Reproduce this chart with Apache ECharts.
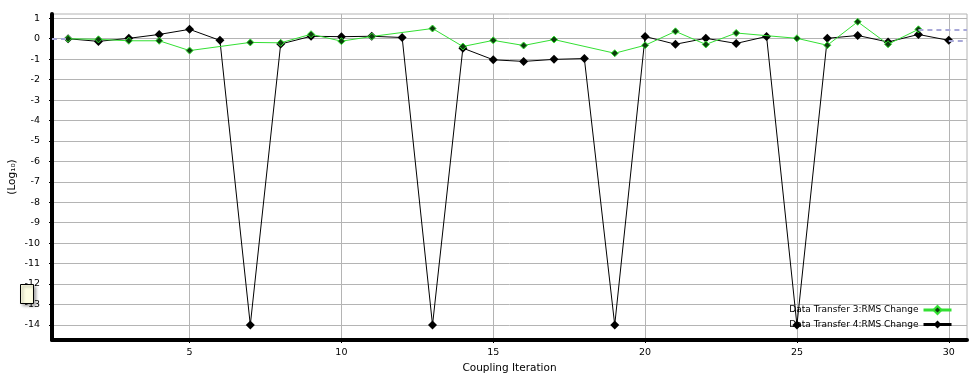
<!DOCTYPE html>
<html>
<head>
<meta charset="utf-8">
<script src="https://cdn.jsdelivr.net/npm/echarts@6/dist/echarts.min.js"></script>
<style>
html,body{margin:0;padding:0;background:#fff;}
#chart{width:978px;height:386px;}
</style>
</head>
<body>
<div id="chart"></div>
<script>
// Data Transfer 3 (green) — iteration, value
var dt3Iter = [1, 2, 3, 4, 5, 7, 8, 9, 10, 11, 13, 14, 15, 16, 17, 19, 20, 21, 22, 23, 25, 26, 27, 28, 29];
var dt3Vals = [0.0, -0.03, -0.1, -0.1, -0.58, -0.18, -0.2, 0.22, -0.12, 0.11, 0.5, -0.38, -0.08, -0.33, -0.04, -0.71, -0.32, 0.36, -0.28, 0.28, 0.02, -0.32, 0.83, -0.27, 0.46];
// Data Transfer 4 (black)
var dt4Iter = [1, 2, 3, 4, 5, 6, 7, 8, 9, 10, 11, 12, 13, 14, 15, 16, 17, 18, 19, 20, 21, 22, 23, 24, 25, 26, 27, 28, 29, 30];
var dt4Vals = [0.0, -0.13, 0.02, 0.21, 0.46, -0.08, -14, -0.26, 0.12, 0.1, 0.12, 0.06, -14, -0.46, -1.03, -1.11, -1.01, -0.97, -14, 0.11, -0.27, 0.02, -0.23, 0.11, -14, 0.02, 0.16, -0.16, 0.21, -0.08];
var xTicks = [5, 10, 15, 20, 25, 30];
var yTicks = [1, 0, -1, -2, -3, -4, -5, -6, -7, -8, -9, -10, -11, -12, -13, -14];
var names = ['Data Transfer 3:RMS Change', 'Data Transfer 4:RMS Change'];

var X_MIN = 0.47, X_MAX = 30.6, Y_MIN = -14.74, Y_MAX = 1.21;

function pairs(a, b) { return a.map(function (v, i) { return [v, b[i]]; }); }
function tailLine(iters, vals) {
  var n = iters.length - 1;
  return [[{coord: [iters[n], vals[n]]}, {coord: [X_MAX, vals[n]]}]];
}

var chart = echarts.init(document.getElementById('chart'), null, {renderer: 'canvas'});
var font = 'DejaVu Sans';
chart.setOption({
  animation: false,
  backgroundColor: '#fff',
  textStyle: {fontFamily: font},
  grid: {left: 52, right: 11, top: 14, bottom: 46, show: true, borderColor: '#b4b4b4', borderWidth: 1, containLabel: false, outerBoundsMode: 'none'},
  legend: {
    data: names,
    orient: 'vertical',
    right: 20,
    top: 300,
    align: 'right',
    itemWidth: 28,
    itemHeight: 10,
    itemGap: 5,
    textStyle: {fontFamily: font, fontSize: 9, color: '#000'},
    lineStyle: {width: 3}
  },
  xAxis: {
    type: 'value',
    min: X_MIN,
    max: X_MAX,
    name: 'Coupling Iteration',
    nameLocation: 'middle',
    nameGap: 23,
    nameMoveOverlap: false,
    nameTextStyle: {fontFamily: font, fontSize: 10.5, color: '#000'},
    axisLine: {show: true, lineStyle: {color: '#000', width: 4}, onZero: false},
    axisTick: {show: true, customValues: xTicks, length: 3, lineStyle: {color: '#000'}},
    axisLabel: {customValues: xTicks, color: '#000', fontSize: 9.5, margin: 8, fontFamily: font},
    splitLine: {show: true, lineStyle: {color: '#b4b4b4', width: 1}}
  },
  yAxis: {
    type: 'value',
    min: Y_MIN,
    max: Y_MAX,
    name: '(Log\u2081\u2080)',
    nameLocation: 'middle',
    nameGap: 34,
    nameMoveOverlap: false,
    nameRotate: 90,
    nameTextStyle: {fontFamily: font, fontSize: 10.5, color: '#000'},
    axisLine: {show: true, lineStyle: {color: '#000', width: 4}, onZero: false},
    axisTick: {show: true, customValues: yTicks, length: 3, lineStyle: {color: '#000'}},
    axisLabel: {customValues: yTicks, color: '#000', fontSize: 9.5, margin: 12, fontFamily: font},
    splitLine: {show: true, lineStyle: {color: '#b4b4b4', width: 1}}
  },
  series: [
    {
      name: names[0],
      type: 'line',
      data: pairs(dt3Iter, dt3Vals),
      symbol: 'diamond',
      symbolSize: 7,
      lineStyle: {color: '#33e033', width: 1},
      itemStyle: {color: '#0d3d0d', borderColor: '#33e033', borderWidth: 1},
      emphasis: {disabled: true},
      z: 3,
      markLine: {
        silent: true, symbol: 'none', label: {show: false},
        lineStyle: {color: '#a8a8d8', type: [5, 4], width: 2},
        data: tailLine(dt3Iter, dt3Vals)
      }
    },
    {
      name: names[1],
      type: 'line',
      data: pairs(dt4Iter, dt4Vals),
      symbol: 'diamond',
      symbolSize: 9,
      lineStyle: {color: '#000', width: 1},
      itemStyle: {color: '#000'},
      emphasis: {disabled: true},
      z: 2,
      markLine: {
        silent: true, symbol: 'none', label: {show: false},
        lineStyle: {color: '#a8a8d8', type: [5, 4], width: 2},
        data: tailLine(dt4Iter, dt4Vals).concat([[{coord: [X_MIN, dt4Vals[0]]}, {coord: [dt4Iter[0], dt4Vals[0]]}]])
      }
    }
  ],
  graphic: [{
    type: 'rect',
    left: 20, top: 284,
    shape: {width: 13, height: 19},
    style: {fill: '#fdfde2', stroke: '#000', lineWidth: 1, shadowBlur: 3, shadowColor: 'rgba(0,0,0,0.35)', shadowOffsetX: 2, shadowOffsetY: 2},
    z: 100
  }]
});
</script>
</body>
</html>
